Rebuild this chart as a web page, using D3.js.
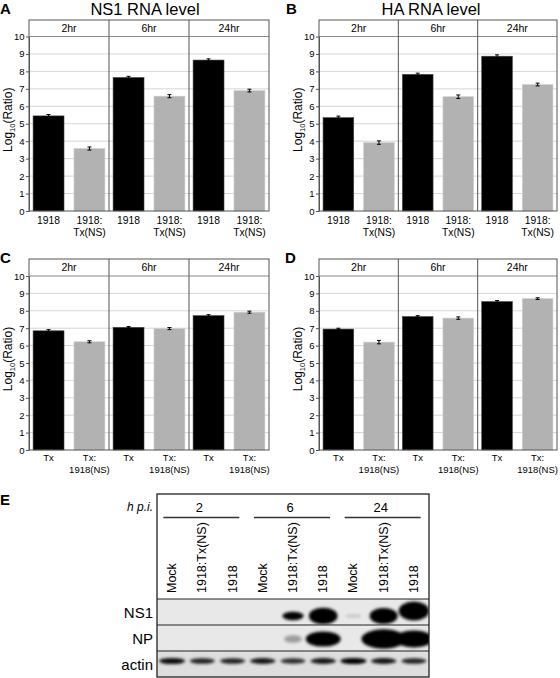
<!DOCTYPE html>
<html><head><meta charset="utf-8">
<script src="https://cdn.jsdelivr.net/npm/d3@7"></script>
<style>body{margin:0;background:#fff}svg{display:block;font-family:"Liberation Sans",Arial,sans-serif}</style>
</head><body><svg id="c" width="560" height="678"></svg>
<script>
// ---------- data ----------
const timepoints = ["2hr", "6hr", "24hr"];
const virusesAB = ["1918", "1918:|Tx(NS)"];
const virusesCD = ["Tx", "Tx:|1918(NS)"];
const yTicks = [0, 1, 2, 3, 4, 5, 6, 7, 8, 9, 10];

const ns1_1918 = [5.45, 7.65, 8.65];
const ns1_1918TxNS = [3.58, 6.58, 6.90];
const ns1_1918Err = [0.05, 0.04, 0.04];
const ns1_1918TxNSErr = [0.06, 0.06, 0.05];

const ha_1918 = [5.35, 7.83, 8.87];
const ha_1918TxNS = [3.92, 6.55, 7.25];
const ha_1918Err = [0.06, 0.04, 0.05];
const ha_1918TxNSErr = [0.07, 0.07, 0.05];

const ns1_Tx = [6.85, 7.05, 7.72];
const ns1_Tx1918NS = [6.22, 6.98, 7.92];
const ns1_TxErr = [0.04, 0.02, 0.03];
const ns1_Tx1918NSErr = [0.03, 0.03, 0.03];

const ha_Tx = [6.95, 7.67, 8.53];
const ha_Tx1918NS = [6.20, 7.58, 8.70];
const ha_TxErr = [0.02, 0.02, 0.03];
const ha_Tx1918NSErr = [0.07, 0.04, 0.02];

// western blot
const hpiGroups = ["2", "6", "24"];
const blotLanes = ["Mock", "1918:Tx(NS)", "1918", "Mock", "1918:Tx(NS)", "1918", "Mock", "1918:Tx(NS)", "1918"];
const blotProteins = ["NS1", "NP", "actin"];
const ns1Signal = [0, 0, 0, 0, 0.45, 1.05, 0.08, 1.0, 1.2];
const npSignal = [0, 0, 0, 0, 0.2, 1.1, 0, 1.6, 1.3];
const actinSignal = [0.95, 0.85, 0.85, 0.9, 0.8, 0.9, 1.0, 0.9, 0.85];

// ---------- drawing ----------
const svg = d3.select("#c");
const FONT = '"Liberation Sans",Arial,sans-serif';

const panels = [
  {letter: "A", title: "NS1 RNA level", titleX: 145, lx: 0, ly: 14, cats: virusesAB,
   series: [ns1_1918, ns1_1918TxNS], errs: [ns1_1918Err, ns1_1918TxNSErr],
   x0: 29, x1: 269, top: 20, hdr: 36.5, y0: 211, ylabX: 8, catFs: 10.3, catY: [224, 236]},
  {letter: "B", title: "HA RNA level", titleX: 431, lx: 286, ly: 14, cats: virusesAB,
   series: [ha_1918, ha_1918TxNS], errs: [ha_1918Err, ha_1918TxNSErr],
   x0: 319, x1: 557, top: 20, hdr: 36.5, y0: 211, ylabX: 298, catFs: 10.3, catY: [224, 236]},
  {letter: "C", title: null, lx: 0, ly: 263, cats: virusesCD,
   series: [ns1_Tx, ns1_Tx1918NS], errs: [ns1_TxErr, ns1_Tx1918NSErr],
   x0: 29, x1: 269, top: 259, hdr: 276, y0: 450, ylabX: 8, catFs: 9.5, catY: [461, 473]},
  {letter: "D", title: null, lx: 285, ly: 263, cats: virusesCD,
   series: [ha_Tx, ha_Tx1918NS], errs: [ha_TxErr, ha_Tx1918NSErr],
   x0: 319, x1: 557, top: 259, hdr: 276, y0: 450, ylabX: 298, catFs: 9.5, catY: [461, 473]}
];

function drawPanel(p) {
  const g = svg.append("g");
  const fx = d3.scaleBand(timepoints, [p.x0, p.x1]);
  const bx = d3.scaleBand(p.cats, [0, fx.bandwidth()]).paddingInner(0.244).paddingOuter(0.1);
  const y = d3.scaleLinear([0, 10], [p.y0, p.hdr]);

  g.append("text").attr("x", p.lx).attr("y", p.ly).attr("font-size", 15).attr("font-weight", "bold").text(p.letter);
  if (p.title) g.append("text").attr("x", p.titleX).attr("y", 15).attr("text-anchor", "middle")
    .attr("font-size", 16.5).text(p.title);

  g.append("g").selectAll("line").data(yTicks.filter(t => t > 0 && t < 10)).join("line")
    .attr("x1", p.x0).attr("x2", p.x1).attr("y1", d => y(d)).attr("y2", d => y(d))
    .attr("stroke", "#d6d6d6").attr("stroke-width", 1);

  const rows = timepoints.flatMap((t, i) => p.cats.map((c, j) => ({t, c, j, v: p.series[j][i], e: p.errs[j][i]})));
  g.append("g").selectAll("rect").data(rows).join("rect")
    .attr("x", d => fx(d.t) + bx(d.c)).attr("width", bx.bandwidth())
    .attr("y", d => y(d.v)).attr("height", d => y(0) - y(d.v))
    .attr("fill", d => d.j ? "#b2b2b2" : "#000")
    .attr("stroke", d => d.j ? "#d0d0d0" : "#444").attr("stroke-width", 0.6);

  const eg = g.append("g").attr("stroke", "#000").attr("stroke-width", 1);
  rows.forEach(d => {
    const cx = fx(d.t) + bx(d.c) + bx.bandwidth() / 2;
    eg.append("line").attr("x1", cx).attr("x2", cx).attr("y1", y(d.v - d.e) + 0.5).attr("y2", y(d.v + d.e) - 0.5);
    [d.v - d.e, d.v + d.e].forEach((v, k) => eg.append("line").attr("x1", cx - 2).attr("x2", cx + 2)
      .attr("y1", y(v) + (k ? -0.5 : 0.5)).attr("y2", y(v) + (k ? -0.5 : 0.5)));
  });

  g.append("rect").attr("x", p.x0).attr("y", p.top).attr("width", p.x1 - p.x0).attr("height", p.hdr - p.top)
    .attr("fill", "#fff");
  g.append("line").attr("x1", p.x0).attr("x2", p.x1).attr("y1", y(10)).attr("y2", y(10))
    .attr("stroke", "#8a8a8a").attr("stroke-width", 1.2);
  g.append("g").selectAll("line").data(timepoints.slice(1)).join("line")
    .attr("x1", d => fx(d)).attr("x2", d => fx(d)).attr("y1", p.top).attr("y2", p.y0)
    .attr("stroke", "#555").attr("stroke-width", 1);
  g.append("rect").attr("x", p.x0).attr("y", p.top).attr("width", p.x1 - p.x0).attr("height", p.y0 - p.top)
    .attr("fill", "none").attr("stroke", "#555").attr("stroke-width", 1);
  g.append("g").selectAll("text").data(timepoints).join("text")
    .attr("x", d => fx(d) + fx.bandwidth() / 2).attr("y", (p.top + p.hdr) / 2 + 3.8)
    .attr("text-anchor", "middle").attr("font-size", 10.5).text(d => d);

  const ax = g.append("g").attr("transform", `translate(${p.x0},0)`)
    .call(d3.axisLeft(y).tickValues(yTicks).tickSize(3).tickSizeOuter(0).tickPadding(1.5));
  ax.select(".domain").attr("stroke", "#555");
  ax.selectAll(".tick line").attr("stroke", "#555");
  ax.selectAll(".tick text").attr("font-size", 9.5).attr("font-family", FONT).attr("fill", "#000");

  const yl = g.append("text").attr("transform", `translate(${p.ylabX + 4},${(p.hdr + p.y0) / 2 - 4}) rotate(-90)`)
    .attr("text-anchor", "middle").attr("font-size", 12);
  yl.append("tspan").text("Log");
  yl.append("tspan").attr("font-size", 7.5).attr("dy", 3).text("10");
  yl.append("tspan").attr("dy", -3).text("(Ratio)");

  rows.forEach(d => {
    const cx = fx(d.t) + bx(d.c) + bx.bandwidth() / 2;
    d.c.split("|").forEach((line, k) => g.append("text").attr("x", cx).attr("y", p.catY[k])
      .attr("text-anchor", "middle").attr("font-size", p.catFs).text(line));
  });
}
panels.forEach(drawPanel);

// ---------- panel E : western blot ----------
const E = {x0: 157, x1: 429, top: 494, bandTop: 599, bottom: 677};
const gE = svg.append("g");
gE.append("text").attr("x", 0).attr("y", 505).attr("font-size", 15).attr("font-weight", "bold").text("E");

const laneX = d3.scaleBand(d3.range(blotLanes.length), [E.x0, E.x1]);
const rowY = d3.scaleBand(blotProteins, [E.bandTop, E.bottom]);

const defs = svg.append("defs");
defs.append("filter").attr("id", "blur").attr("x", "-50%").attr("y", "-80%").attr("width", "200%").attr("height", "260%")
  .append("feGaussianBlur").attr("stdDeviation", 1.6);
blotProteins.forEach(pn => defs.append("clipPath").attr("id", "clip-" + pn)
  .append("rect").attr("x", E.x0).attr("y", rowY(pn)).attr("width", E.x1 - E.x0).attr("height", rowY.bandwidth()));

const rowStyle = {
  NS1: {bg: "#e8e8e8", dy: 4, rx0: 8, rxk: 6, ry0: 1, ryk: 7, op: 2.2},
  NP: {bg: "#e8e8e8", dy: 1, rx0: 7, rxk: 9.5, ry0: 3, ryk: 4.2, op: 1.6},
  actin: {bg: "#dedede", dy: -3, rx0: 10, rxk: 3, ry0: 1.5, ryk: 1.6, op: 1.0}
};
const signals = {NS1: ns1Signal, NP: npSignal, actin: actinSignal};

blotProteins.forEach(pn => {
  const st = rowStyle[pn];
  const rg = gE.append("g").attr("clip-path", `url(#clip-${pn})`);
  rg.append("rect").attr("x", E.x0).attr("y", rowY(pn)).attr("width", E.x1 - E.x0).attr("height", rowY.bandwidth())
    .attr("fill", st.bg);
  rg.append("g").attr("filter", "url(#blur)").selectAll("ellipse")
    .data(signals[pn].map((s, i) => ({s, i})).filter(d => d.s > 0)).join("ellipse")
    .attr("cx", d => laneX(d.i) + laneX.bandwidth() / 2)
    .attr("cy", d => rowY(pn) + rowY.bandwidth() / 2 + st.dy - (pn === "NS1" && d.s > 1.1 ? 5 : 0))
    .attr("rx", d => st.rx0 + st.rxk * d.s)
    .attr("ry", d => st.ry0 + st.ryk * d.s)
    .attr("fill", "#000").attr("fill-opacity", d => Math.min(1, st.op * d.s));
  gE.append("text").attr("x", 153).attr("y", rowY(pn) + rowY.bandwidth() / 2 + 5.5)
    .attr("text-anchor", "end").attr("font-size", 15).text(pn);
});

gE.append("g").selectAll("line").data(blotProteins).join("line")
  .attr("x1", E.x0).attr("x2", E.x1).attr("y1", d => rowY(d)).attr("y2", d => rowY(d))
  .attr("stroke", "#222").attr("stroke-width", 1.2);
gE.append("rect").attr("x", E.x0).attr("y", E.top).attr("width", E.x1 - E.x0).attr("height", E.bottom - E.top)
  .attr("fill", "none").attr("stroke", "#222").attr("stroke-width", 1.3);

gE.append("text").attr("x", 153).attr("y", 511).attr("text-anchor", "end").attr("font-size", 12)
  .attr("font-style", "italic").text("h p.i.");
hpiGroups.forEach((h, k) => {
  const a = laneX(3 * k), b = laneX(3 * k + 2) + laneX.bandwidth();
  const c = (a + b) / 2 - 1;
  gE.append("line").attr("x1", c - 38).attr("x2", c + 38).attr("y1", 517.5).attr("y2", 517.5)
    .attr("stroke", "#333").attr("stroke-width", 1.5);
  gE.append("text").attr("x", c - 2).attr("y", 511.5).attr("text-anchor", "middle").attr("font-size", 13).text(h);
});

gE.append("g").selectAll("text").data(blotLanes).join("text")
  .attr("transform", (d, i) => `translate(${laneX(i) + laneX.bandwidth() / 2 + 4},593) rotate(-90)`)
  .attr("font-size", 12.5).text(d => d);
</script></body></html>
